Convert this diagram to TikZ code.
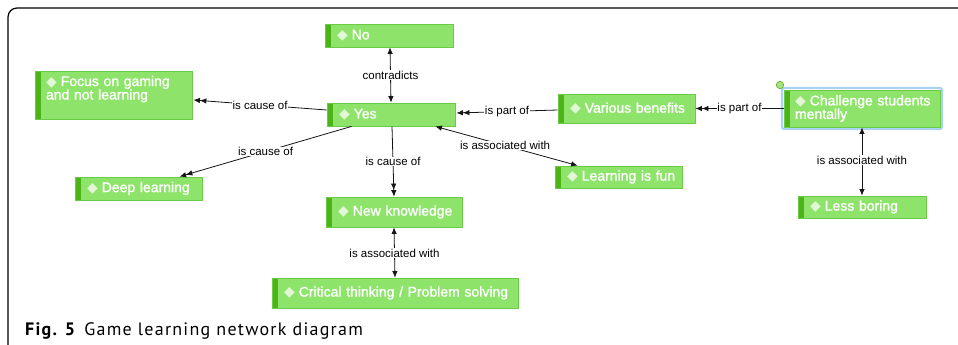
\documentclass[tikz,border=0pt]{standalone}
\usepackage{fontspec}
\setmainfont{Liberation Sans}
\newfontfamily\nodefont[FakeBold=1.3]{Liberation Sans}
\newfontfamily\djfont{DejaVu Sans}
\newfontfamily\capfont[LetterSpace=7]{PT Sans}
\usetikzlibrary{arrows.meta,calc}
\definecolor{nodefill}{HTML}{8EE46A}
\definecolor{nodeborder}{HTML}{6CCB46}
\definecolor{stripe}{HTML}{4CB417}
\definecolor{diam}{HTML}{E2F7D6}
\definecolor{selblue}{HTML}{A9D2F3}
\definecolor{dotfill}{HTML}{A6E27C}
\definecolor{dotline}{HTML}{5DB02F}
\definecolor{edgecol}{HTML}{151515}
\newcommand{\dm}{{\djfont\fontsize{14}{14}\selectfont\textcolor{diam}{◆}}\hspace{4pt}}
\tikzset{
  concept/.style={draw=nodeborder, fill=nodefill, line width=0.8pt, text=white,
    font=\nodefont\fontsize{14}{13.5}\selectfont, inner sep=0pt, align=left,
    path picture={\fill[stripe] (path picture bounding box.south west) rectangle ([xshift=6pt]path picture bounding box.north west);}},
  rel/.style={draw=edgecol, line width=0.8pt},
  dbl/.style={-{Latex[length=6.5pt,width=5.5pt]Latex[length=6.5pt,width=5.5pt]}},
  both/.style={{Latex[length=6.5pt,width=5.5pt]}-{Latex[length=6.5pt,width=5.5pt]}},
  lab/.style={font=\fontsize{11.5}{12}\selectfont, text=black, fill=white, inner sep=0.6pt, pos=0.5},
  frame/.style={draw=black, line width=1.2pt, rounded corners=9pt},
}
\begin{document}
\begin{tikzpicture}[x=1pt,y=-1pt]
\useasboundingbox (0,0) rectangle (958,345);
\clip (0,0) rectangle (958,345);
\fill[white] (0,0) rectangle (958,345);
% frame
\draw[frame] (8,354) rectangle (980,8);
% selection halo
\draw[selblue, line width=2.2pt, rounded corners=2pt] (782,88) rectangle (942,129);
% nodes
\node[concept, minimum width=128, minimum height=23, text width=104] (no) at (389,35.5) {\mbox{\dm No}};
\node[concept, minimum width=128, minimum height=23, text width=104] (yes) at (391,114.5) {\mbox{\dm Yes}};
\node[concept, minimum width=157, minimum height=48, text width=135, text height=11, text depth=29] (focus) at (113.5,95) {\mbox{\dm Focus on gaming}\\and not learning};
\node[concept, minimum width=127, minimum height=23, text width=103] (deep) at (138.5,188.5) {\mbox{\dm Deep learning}};
\node[concept, minimum width=136, minimum height=30, text width=112] (newk) at (394,212) {\mbox{\dm New knowledge}};
\node[concept, minimum width=246, minimum height=30, text width=222] (crit) at (395,293) {\mbox{\dm Critical thinking / Problem solving}};
\node[concept, minimum width=137, minimum height=29, text width=113] (various) at (626.5,108.5) {\mbox{\dm Various benefits}};
\node[concept, minimum width=127, minimum height=22, text width=103] (fun) at (618.5,177) {\mbox{\dm Learning is fun}};
\node[concept, minimum width=128, minimum height=22, text width=104] (less) at (862,207) {\mbox{\dm Less boring}};
\node[concept, minimum width=156, minimum height=37, text width=134] (chal) at (862,108.5) {\mbox{\dm Challenge students}\\mentally};
% small handle circle
\node[circle, draw=dotline, fill=dotfill, line width=0.6pt, minimum size=7.5, inner sep=0pt] (handle) at (780,85) {};
% connectors
\draw[rel, dbl] ($(yes.west)+(0,-4.5)$) -- node[lab] {is cause of} ($(focus.east)+(1,5)$);
\draw[rel, dbl] ($(yes.south west)+(25,0)$) -- node[lab] {is cause of} ($(deep.north west)+(105,0)$);
\draw[rel, dbl] ($(yes.south)+(1,0)$) -- node[lab] {is cause of} (newk.north);
\draw[rel, dbl] ($(various.west)+(0,1.5)$) -- node[lab] {is part of} ($(yes.east)+(1,-1.5)$);
\draw[rel, dbl] (chal.west) -- node[lab] {is part of} (various.east);
\draw[rel, both] ($(no.south)+(1,0)$) -- node[lab] {contradicts} (yes.north);
\draw[rel, both] ($(yes.south east)+(-20,0)$) -- node[lab, pos=0.49] {is associated with} ($(fun.north west)+(23,0)$);
\draw[rel, both] (chal.south) -- node[lab, pos=0.48] {is associated with} (less.north);
\draw[rel, both] (newk.south) -- node[lab, pos=0.51] {is associated with} (crit.north);
% caption
\node[anchor=base west, inner sep=0pt, font=\capfont\fontsize{18}{18}\selectfont] (cap) at (25,335.7) {\textbf{Fig. 5}\hspace{0.45em}Game learning network diagram};
\end{tikzpicture}
\end{document}
